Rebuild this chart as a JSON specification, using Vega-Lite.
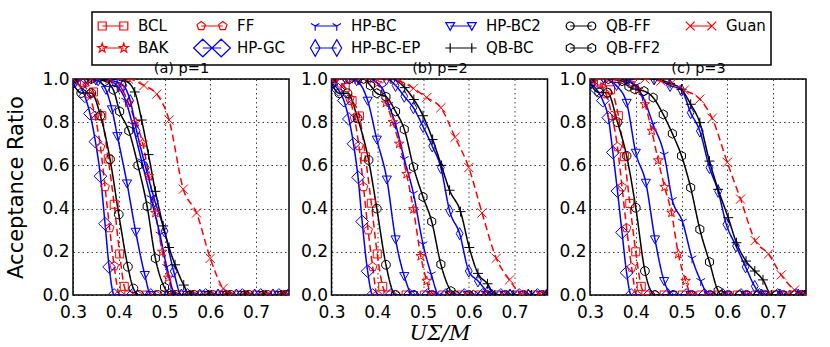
{
"$schema": "https://vega.github.io/schema/vega-lite/v6.json",
"background": "white",
"padding": {"left": 5, "top": 10, "right": 5, "bottom": 2},
"datasets": {"curves": [
{"p":1,"s":"BCL","x":0.3,"y":1},{"p":1,"s":"BCL","x":0.325,"y":0.985},{"p":1,"s":"BCL","x":0.345,"y":0.94},{"p":1,"s":"BCL","x":0.363,"y":0.83},{"p":1,"s":"BCL","x":0.377,"y":0.63},{"p":1,"s":"BCL","x":0.39,"y":0.42},{"p":1,"s":"BCL","x":0.402,"y":0.19},{"p":1,"s":"BCL","x":0.412,"y":0.04},{"p":1,"s":"BCL","x":0.422,"y":0},{"p":1,"s":"BCL","x":0.46,"y":0},{"p":1,"s":"BCL","x":0.5,"y":0},{"p":1,"s":"BCL","x":0.54,"y":0},{"p":1,"s":"BCL","x":0.58,"y":0},{"p":1,"s":"BCL","x":0.62,"y":0},{"p":1,"s":"BCL","x":0.66,"y":0},{"p":1,"s":"BCL","x":0.7,"y":0},{"p":1,"s":"BCL","x":0.74,"y":0},{"p":1,"s":"BCL","x":0.77,"y":0},
{"p":1,"s":"BAK","x":0.3,"y":1},{"p":1,"s":"BAK","x":0.34,"y":1},{"p":1,"s":"BAK","x":0.38,"y":1},{"p":1,"s":"BAK","x":0.405,"y":0.96},{"p":1,"s":"BAK","x":0.421,"y":0.89},{"p":1,"s":"BAK","x":0.437,"y":0.8},{"p":1,"s":"BAK","x":0.452,"y":0.705},{"p":1,"s":"BAK","x":0.466,"y":0.55},{"p":1,"s":"BAK","x":0.48,"y":0.38},{"p":1,"s":"BAK","x":0.495,"y":0.2},{"p":1,"s":"BAK","x":0.508,"y":0.08},{"p":1,"s":"BAK","x":0.522,"y":0},{"p":1,"s":"BAK","x":0.562,"y":0},{"p":1,"s":"BAK","x":0.602,"y":0},{"p":1,"s":"BAK","x":0.642,"y":0},{"p":1,"s":"BAK","x":0.682,"y":0},{"p":1,"s":"BAK","x":0.722,"y":0},{"p":1,"s":"BAK","x":0.762,"y":0},
{"p":1,"s":"FF","x":0.3,"y":1},{"p":1,"s":"FF","x":0.32,"y":0.98},{"p":1,"s":"FF","x":0.335,"y":0.93},{"p":1,"s":"FF","x":0.348,"y":0.83},{"p":1,"s":"FF","x":0.36,"y":0.685},{"p":1,"s":"FF","x":0.37,"y":0.5},{"p":1,"s":"FF","x":0.38,"y":0.31},{"p":1,"s":"FF","x":0.39,"y":0.134},{"p":1,"s":"FF","x":0.402,"y":0},{"p":1,"s":"FF","x":0.44,"y":0},{"p":1,"s":"FF","x":0.48,"y":0},{"p":1,"s":"FF","x":0.52,"y":0},{"p":1,"s":"FF","x":0.56,"y":0},{"p":1,"s":"FF","x":0.6,"y":0},{"p":1,"s":"FF","x":0.64,"y":0},{"p":1,"s":"FF","x":0.68,"y":0},{"p":1,"s":"FF","x":0.72,"y":0},{"p":1,"s":"FF","x":0.76,"y":0},
{"p":1,"s":"HP-GC","x":0.3,"y":0.99},{"p":1,"s":"HP-GC","x":0.315,"y":0.97},{"p":1,"s":"HP-GC","x":0.326,"y":0.92},{"p":1,"s":"HP-GC","x":0.337,"y":0.84},{"p":1,"s":"HP-GC","x":0.349,"y":0.71},{"p":1,"s":"HP-GC","x":0.36,"y":0.55},{"p":1,"s":"HP-GC","x":0.37,"y":0.33},{"p":1,"s":"HP-GC","x":0.379,"y":0.13},{"p":1,"s":"HP-GC","x":0.39,"y":0},{"p":1,"s":"HP-GC","x":0.43,"y":0},{"p":1,"s":"HP-GC","x":0.47,"y":0},{"p":1,"s":"HP-GC","x":0.51,"y":0},{"p":1,"s":"HP-GC","x":0.55,"y":0},{"p":1,"s":"HP-GC","x":0.59,"y":0},{"p":1,"s":"HP-GC","x":0.63,"y":0},{"p":1,"s":"HP-GC","x":0.67,"y":0},{"p":1,"s":"HP-GC","x":0.71,"y":0},{"p":1,"s":"HP-GC","x":0.75,"y":0},
{"p":1,"s":"HP-BC","x":0.3,"y":1},{"p":1,"s":"HP-BC","x":0.34,"y":1},{"p":1,"s":"HP-BC","x":0.38,"y":0.99},{"p":1,"s":"HP-BC","x":0.4,"y":0.96},{"p":1,"s":"HP-BC","x":0.415,"y":0.9},{"p":1,"s":"HP-BC","x":0.43,"y":0.79},{"p":1,"s":"HP-BC","x":0.45,"y":0.62},{"p":1,"s":"HP-BC","x":0.47,"y":0.45},{"p":1,"s":"HP-BC","x":0.49,"y":0.28},{"p":1,"s":"HP-BC","x":0.505,"y":0.13},{"p":1,"s":"HP-BC","x":0.525,"y":0},{"p":1,"s":"HP-BC","x":0.565,"y":0},{"p":1,"s":"HP-BC","x":0.605,"y":0},{"p":1,"s":"HP-BC","x":0.645,"y":0},{"p":1,"s":"HP-BC","x":0.685,"y":0},{"p":1,"s":"HP-BC","x":0.725,"y":0},{"p":1,"s":"HP-BC","x":0.765,"y":0},
{"p":1,"s":"HP-BC-EP","x":0.3,"y":1},{"p":1,"s":"HP-BC-EP","x":0.35,"y":1},{"p":1,"s":"HP-BC-EP","x":0.39,"y":0.99},{"p":1,"s":"HP-BC-EP","x":0.41,"y":0.97},{"p":1,"s":"HP-BC-EP","x":0.425,"y":0.9},{"p":1,"s":"HP-BC-EP","x":0.439,"y":0.76},{"p":1,"s":"HP-BC-EP","x":0.459,"y":0.59},{"p":1,"s":"HP-BC-EP","x":0.479,"y":0.435},{"p":1,"s":"HP-BC-EP","x":0.5,"y":0.296},{"p":1,"s":"HP-BC-EP","x":0.52,"y":0.11},{"p":1,"s":"HP-BC-EP","x":0.537,"y":0},{"p":1,"s":"HP-BC-EP","x":0.577,"y":0},{"p":1,"s":"HP-BC-EP","x":0.617,"y":0},{"p":1,"s":"HP-BC-EP","x":0.657,"y":0},{"p":1,"s":"HP-BC-EP","x":0.697,"y":0},{"p":1,"s":"HP-BC-EP","x":0.737,"y":0},{"p":1,"s":"HP-BC-EP","x":0.77,"y":0},
{"p":1,"s":"HP-BC2","x":0.3,"y":1},{"p":1,"s":"HP-BC2","x":0.33,"y":1},{"p":1,"s":"HP-BC2","x":0.355,"y":0.99},{"p":1,"s":"HP-BC2","x":0.372,"y":0.95},{"p":1,"s":"HP-BC2","x":0.385,"y":0.86},{"p":1,"s":"HP-BC2","x":0.397,"y":0.736},{"p":1,"s":"HP-BC2","x":0.418,"y":0.517},{"p":1,"s":"HP-BC2","x":0.437,"y":0.293},{"p":1,"s":"HP-BC2","x":0.457,"y":0.093},{"p":1,"s":"HP-BC2","x":0.47,"y":0},{"p":1,"s":"HP-BC2","x":0.51,"y":0},{"p":1,"s":"HP-BC2","x":0.55,"y":0},{"p":1,"s":"HP-BC2","x":0.59,"y":0},{"p":1,"s":"HP-BC2","x":0.63,"y":0},{"p":1,"s":"HP-BC2","x":0.67,"y":0},{"p":1,"s":"HP-BC2","x":0.71,"y":0},{"p":1,"s":"HP-BC2","x":0.75,"y":0},
{"p":1,"s":"QB-BC","x":0.3,"y":1},{"p":1,"s":"QB-BC","x":0.34,"y":1},{"p":1,"s":"QB-BC","x":0.38,"y":1},{"p":1,"s":"QB-BC","x":0.415,"y":0.99},{"p":1,"s":"QB-BC","x":0.435,"y":0.94},{"p":1,"s":"QB-BC","x":0.45,"y":0.81},{"p":1,"s":"QB-BC","x":0.465,"y":0.65},{"p":1,"s":"QB-BC","x":0.48,"y":0.48},{"p":1,"s":"QB-BC","x":0.497,"y":0.32},{"p":1,"s":"QB-BC","x":0.51,"y":0.22},{"p":1,"s":"QB-BC","x":0.523,"y":0.14},{"p":1,"s":"QB-BC","x":0.542,"y":0.046},{"p":1,"s":"QB-BC","x":0.555,"y":0},{"p":1,"s":"QB-BC","x":0.595,"y":0},{"p":1,"s":"QB-BC","x":0.635,"y":0},{"p":1,"s":"QB-BC","x":0.675,"y":0},{"p":1,"s":"QB-BC","x":0.715,"y":0},{"p":1,"s":"QB-BC","x":0.755,"y":0},
{"p":1,"s":"QB-FF","x":0.3,"y":0.98},{"p":1,"s":"QB-FF","x":0.318,"y":0.935},{"p":1,"s":"QB-FF","x":0.34,"y":0.935},{"p":1,"s":"QB-FF","x":0.36,"y":0.83},{"p":1,"s":"QB-FF","x":0.381,"y":0.628},{"p":1,"s":"QB-FF","x":0.4,"y":0.373},{"p":1,"s":"QB-FF","x":0.42,"y":0.131},{"p":1,"s":"QB-FF","x":0.432,"y":0.03},{"p":1,"s":"QB-FF","x":0.445,"y":0},{"p":1,"s":"QB-FF","x":0.485,"y":0},{"p":1,"s":"QB-FF","x":0.525,"y":0},{"p":1,"s":"QB-FF","x":0.565,"y":0},{"p":1,"s":"QB-FF","x":0.605,"y":0},{"p":1,"s":"QB-FF","x":0.645,"y":0},{"p":1,"s":"QB-FF","x":0.685,"y":0},{"p":1,"s":"QB-FF","x":0.725,"y":0},{"p":1,"s":"QB-FF","x":0.765,"y":0},
{"p":1,"s":"QB-FF2","x":0.3,"y":1},{"p":1,"s":"QB-FF2","x":0.34,"y":1},{"p":1,"s":"QB-FF2","x":0.37,"y":0.99},{"p":1,"s":"QB-FF2","x":0.388,"y":0.95},{"p":1,"s":"QB-FF2","x":0.402,"y":0.85},{"p":1,"s":"QB-FF2","x":0.422,"y":0.76},{"p":1,"s":"QB-FF2","x":0.442,"y":0.6},{"p":1,"s":"QB-FF2","x":0.462,"y":0.41},{"p":1,"s":"QB-FF2","x":0.48,"y":0.17},{"p":1,"s":"QB-FF2","x":0.5,"y":0.035},{"p":1,"s":"QB-FF2","x":0.515,"y":0},{"p":1,"s":"QB-FF2","x":0.555,"y":0},{"p":1,"s":"QB-FF2","x":0.595,"y":0},{"p":1,"s":"QB-FF2","x":0.635,"y":0},{"p":1,"s":"QB-FF2","x":0.675,"y":0},{"p":1,"s":"QB-FF2","x":0.715,"y":0},{"p":1,"s":"QB-FF2","x":0.755,"y":0},
{"p":1,"s":"Guan","x":0.3,"y":1},{"p":1,"s":"Guan","x":0.34,"y":1},{"p":1,"s":"Guan","x":0.38,"y":1},{"p":1,"s":"Guan","x":0.421,"y":1},{"p":1,"s":"Guan","x":0.455,"y":0.97},{"p":1,"s":"Guan","x":0.483,"y":0.93},{"p":1,"s":"Guan","x":0.51,"y":0.81},{"p":1,"s":"Guan","x":0.541,"y":0.49},{"p":1,"s":"Guan","x":0.57,"y":0.38},{"p":1,"s":"Guan","x":0.6,"y":0.17},{"p":1,"s":"Guan","x":0.628,"y":0.03},{"p":1,"s":"Guan","x":0.645,"y":0},{"p":1,"s":"Guan","x":0.685,"y":0},{"p":1,"s":"Guan","x":0.725,"y":0},{"p":1,"s":"Guan","x":0.765,"y":0},

{"p":2,"s":"BCL","x":0.3,"y":1},{"p":2,"s":"BCL","x":0.33,"y":0.96},{"p":2,"s":"BCL","x":0.345,"y":0.9},{"p":2,"s":"BCL","x":0.361,"y":0.829},{"p":2,"s":"BCL","x":0.374,"y":0.64},{"p":2,"s":"BCL","x":0.387,"y":0.425},{"p":2,"s":"BCL","x":0.4,"y":0.19},{"p":2,"s":"BCL","x":0.412,"y":0.04},{"p":2,"s":"BCL","x":0.423,"y":0},{"p":2,"s":"BCL","x":0.463,"y":0},{"p":2,"s":"BCL","x":0.503,"y":0},{"p":2,"s":"BCL","x":0.543,"y":0},{"p":2,"s":"BCL","x":0.583,"y":0},{"p":2,"s":"BCL","x":0.623,"y":0},{"p":2,"s":"BCL","x":0.663,"y":0},{"p":2,"s":"BCL","x":0.703,"y":0},{"p":2,"s":"BCL","x":0.743,"y":0},{"p":2,"s":"BCL","x":0.77,"y":0},
{"p":2,"s":"FF","x":0.3,"y":1},{"p":2,"s":"FF","x":0.32,"y":0.98},{"p":2,"s":"FF","x":0.34,"y":0.91},{"p":2,"s":"FF","x":0.35,"y":0.82},{"p":2,"s":"FF","x":0.36,"y":0.69},{"p":2,"s":"FF","x":0.37,"y":0.5},{"p":2,"s":"FF","x":0.38,"y":0.3},{"p":2,"s":"FF","x":0.39,"y":0.13},{"p":2,"s":"FF","x":0.4,"y":0},{"p":2,"s":"FF","x":0.44,"y":0},{"p":2,"s":"FF","x":0.48,"y":0},{"p":2,"s":"FF","x":0.52,"y":0},{"p":2,"s":"FF","x":0.56,"y":0},{"p":2,"s":"FF","x":0.6,"y":0},{"p":2,"s":"FF","x":0.64,"y":0},{"p":2,"s":"FF","x":0.68,"y":0},{"p":2,"s":"FF","x":0.72,"y":0},{"p":2,"s":"FF","x":0.76,"y":0},
{"p":2,"s":"HP-GC","x":0.3,"y":0.98},{"p":2,"s":"HP-GC","x":0.315,"y":0.95},{"p":2,"s":"HP-GC","x":0.327,"y":0.9},{"p":2,"s":"HP-GC","x":0.338,"y":0.815},{"p":2,"s":"HP-GC","x":0.348,"y":0.7},{"p":2,"s":"HP-GC","x":0.358,"y":0.545},{"p":2,"s":"HP-GC","x":0.367,"y":0.34},{"p":2,"s":"HP-GC","x":0.379,"y":0.11},{"p":2,"s":"HP-GC","x":0.39,"y":0},{"p":2,"s":"HP-GC","x":0.43,"y":0},{"p":2,"s":"HP-GC","x":0.47,"y":0},{"p":2,"s":"HP-GC","x":0.51,"y":0},{"p":2,"s":"HP-GC","x":0.55,"y":0},{"p":2,"s":"HP-GC","x":0.59,"y":0},{"p":2,"s":"HP-GC","x":0.63,"y":0},{"p":2,"s":"HP-GC","x":0.67,"y":0},{"p":2,"s":"HP-GC","x":0.71,"y":0},{"p":2,"s":"HP-GC","x":0.75,"y":0},
{"p":2,"s":"QB-FF","x":0.3,"y":0.98},{"p":2,"s":"QB-FF","x":0.317,"y":0.934},{"p":2,"s":"QB-FF","x":0.335,"y":0.934},{"p":2,"s":"QB-FF","x":0.357,"y":0.818},{"p":2,"s":"QB-FF","x":0.381,"y":0.625},{"p":2,"s":"QB-FF","x":0.399,"y":0.4},{"p":2,"s":"QB-FF","x":0.419,"y":0.14},{"p":2,"s":"QB-FF","x":0.44,"y":0},{"p":2,"s":"QB-FF","x":0.48,"y":0},{"p":2,"s":"QB-FF","x":0.52,"y":0},{"p":2,"s":"QB-FF","x":0.56,"y":0},{"p":2,"s":"QB-FF","x":0.6,"y":0},{"p":2,"s":"QB-FF","x":0.64,"y":0},{"p":2,"s":"QB-FF","x":0.68,"y":0},{"p":2,"s":"QB-FF","x":0.72,"y":0},{"p":2,"s":"QB-FF","x":0.76,"y":0},
{"p":2,"s":"HP-BC2","x":0.3,"y":1},{"p":2,"s":"HP-BC2","x":0.33,"y":1},{"p":2,"s":"HP-BC2","x":0.355,"y":0.99},{"p":2,"s":"HP-BC2","x":0.379,"y":0.9},{"p":2,"s":"HP-BC2","x":0.399,"y":0.72},{"p":2,"s":"HP-BC2","x":0.421,"y":0.535},{"p":2,"s":"HP-BC2","x":0.44,"y":0.258},{"p":2,"s":"HP-BC2","x":0.459,"y":0.088},{"p":2,"s":"HP-BC2","x":0.478,"y":0},{"p":2,"s":"HP-BC2","x":0.518,"y":0},{"p":2,"s":"HP-BC2","x":0.558,"y":0},{"p":2,"s":"HP-BC2","x":0.598,"y":0},{"p":2,"s":"HP-BC2","x":0.638,"y":0},{"p":2,"s":"HP-BC2","x":0.678,"y":0},{"p":2,"s":"HP-BC2","x":0.718,"y":0},{"p":2,"s":"HP-BC2","x":0.758,"y":0},
{"p":2,"s":"BAK","x":0.3,"y":1},{"p":2,"s":"BAK","x":0.34,"y":1},{"p":2,"s":"BAK","x":0.38,"y":1},{"p":2,"s":"BAK","x":0.4,"y":0.98},{"p":2,"s":"BAK","x":0.419,"y":0.89},{"p":2,"s":"BAK","x":0.434,"y":0.8},{"p":2,"s":"BAK","x":0.448,"y":0.7},{"p":2,"s":"BAK","x":0.464,"y":0.56},{"p":2,"s":"BAK","x":0.479,"y":0.397},{"p":2,"s":"BAK","x":0.495,"y":0.18},{"p":2,"s":"BAK","x":0.508,"y":0.065},{"p":2,"s":"BAK","x":0.52,"y":0},{"p":2,"s":"BAK","x":0.56,"y":0},{"p":2,"s":"BAK","x":0.6,"y":0},{"p":2,"s":"BAK","x":0.64,"y":0},{"p":2,"s":"BAK","x":0.68,"y":0},{"p":2,"s":"BAK","x":0.72,"y":0},{"p":2,"s":"BAK","x":0.76,"y":0},
{"p":2,"s":"HP-BC","x":0.3,"y":1},{"p":2,"s":"HP-BC","x":0.34,"y":1},{"p":2,"s":"HP-BC","x":0.38,"y":1},{"p":2,"s":"HP-BC","x":0.41,"y":0.96},{"p":2,"s":"HP-BC","x":0.425,"y":0.88},{"p":2,"s":"HP-BC","x":0.44,"y":0.79},{"p":2,"s":"HP-BC","x":0.459,"y":0.63},{"p":2,"s":"HP-BC","x":0.479,"y":0.47},{"p":2,"s":"HP-BC","x":0.5,"y":0.235},{"p":2,"s":"HP-BC","x":0.518,"y":0.096},{"p":2,"s":"HP-BC","x":0.535,"y":0},{"p":2,"s":"HP-BC","x":0.575,"y":0},{"p":2,"s":"HP-BC","x":0.615,"y":0},{"p":2,"s":"HP-BC","x":0.655,"y":0},{"p":2,"s":"HP-BC","x":0.695,"y":0},{"p":2,"s":"HP-BC","x":0.735,"y":0},{"p":2,"s":"HP-BC","x":0.77,"y":0},
{"p":2,"s":"QB-FF2","x":0.3,"y":1},{"p":2,"s":"QB-FF2","x":0.34,"y":1},{"p":2,"s":"QB-FF2","x":0.37,"y":1},{"p":2,"s":"QB-FF2","x":0.385,"y":0.97},{"p":2,"s":"QB-FF2","x":0.399,"y":0.934},{"p":2,"s":"QB-FF2","x":0.419,"y":0.918},{"p":2,"s":"QB-FF2","x":0.44,"y":0.85},{"p":2,"s":"QB-FF2","x":0.459,"y":0.767},{"p":2,"s":"QB-FF2","x":0.479,"y":0.593},{"p":2,"s":"QB-FF2","x":0.5,"y":0.454},{"p":2,"s":"QB-FF2","x":0.519,"y":0.34},{"p":2,"s":"QB-FF2","x":0.539,"y":0.142},{"p":2,"s":"QB-FF2","x":0.561,"y":0.018},{"p":2,"s":"QB-FF2","x":0.57,"y":0},{"p":2,"s":"QB-FF2","x":0.61,"y":0},{"p":2,"s":"QB-FF2","x":0.65,"y":0},{"p":2,"s":"QB-FF2","x":0.69,"y":0},{"p":2,"s":"QB-FF2","x":0.73,"y":0},{"p":2,"s":"QB-FF2","x":0.77,"y":0},
{"p":2,"s":"HP-BC-EP","x":0.3,"y":1},{"p":2,"s":"HP-BC-EP","x":0.36,"y":1},{"p":2,"s":"HP-BC-EP","x":0.42,"y":1},{"p":2,"s":"HP-BC-EP","x":0.44,"y":0.97},{"p":2,"s":"HP-BC-EP","x":0.459,"y":0.92},{"p":2,"s":"HP-BC-EP","x":0.479,"y":0.867},{"p":2,"s":"HP-BC-EP","x":0.5,"y":0.78},{"p":2,"s":"HP-BC-EP","x":0.52,"y":0.69},{"p":2,"s":"HP-BC-EP","x":0.539,"y":0.59},{"p":2,"s":"HP-BC-EP","x":0.558,"y":0.39},{"p":2,"s":"HP-BC-EP","x":0.58,"y":0.284},{"p":2,"s":"HP-BC-EP","x":0.6,"y":0.111},{"p":2,"s":"HP-BC-EP","x":0.62,"y":0.065},{"p":2,"s":"HP-BC-EP","x":0.641,"y":0.015},{"p":2,"s":"HP-BC-EP","x":0.65,"y":0},{"p":2,"s":"HP-BC-EP","x":0.69,"y":0},{"p":2,"s":"HP-BC-EP","x":0.73,"y":0},{"p":2,"s":"HP-BC-EP","x":0.77,"y":0},
{"p":2,"s":"QB-BC","x":0.3,"y":1},{"p":2,"s":"QB-BC","x":0.36,"y":1},{"p":2,"s":"QB-BC","x":0.43,"y":1},{"p":2,"s":"QB-BC","x":0.46,"y":0.96},{"p":2,"s":"QB-BC","x":0.48,"y":0.905},{"p":2,"s":"QB-BC","x":0.5,"y":0.83},{"p":2,"s":"QB-BC","x":0.521,"y":0.72},{"p":2,"s":"QB-BC","x":0.54,"y":0.6},{"p":2,"s":"QB-BC","x":0.558,"y":0.485},{"p":2,"s":"QB-BC","x":0.582,"y":0.386},{"p":2,"s":"QB-BC","x":0.601,"y":0.22},{"p":2,"s":"QB-BC","x":0.62,"y":0.1},{"p":2,"s":"QB-BC","x":0.641,"y":0.052},{"p":2,"s":"QB-BC","x":0.657,"y":0},{"p":2,"s":"QB-BC","x":0.697,"y":0},{"p":2,"s":"QB-BC","x":0.737,"y":0},{"p":2,"s":"QB-BC","x":0.77,"y":0},
{"p":2,"s":"Guan","x":0.3,"y":1},{"p":2,"s":"Guan","x":0.36,"y":1},{"p":2,"s":"Guan","x":0.42,"y":1},{"p":2,"s":"Guan","x":0.45,"y":0.99},{"p":2,"s":"Guan","x":0.479,"y":0.957},{"p":2,"s":"Guan","x":0.508,"y":0.914},{"p":2,"s":"Guan","x":0.539,"y":0.867},{"p":2,"s":"Guan","x":0.57,"y":0.73},{"p":2,"s":"Guan","x":0.6,"y":0.59},{"p":2,"s":"Guan","x":0.629,"y":0.38},{"p":2,"s":"Guan","x":0.66,"y":0.17},{"p":2,"s":"Guan","x":0.689,"y":0.07},{"p":2,"s":"Guan","x":0.718,"y":0},{"p":2,"s":"Guan","x":0.758,"y":0},

{"p":3,"s":"HP-GC","x":0.3,"y":0.98},{"p":3,"s":"HP-GC","x":0.315,"y":0.95},{"p":3,"s":"HP-GC","x":0.328,"y":0.9},{"p":3,"s":"HP-GC","x":0.34,"y":0.821},{"p":3,"s":"HP-GC","x":0.35,"y":0.66},{"p":3,"s":"HP-GC","x":0.36,"y":0.481},{"p":3,"s":"HP-GC","x":0.37,"y":0.29},{"p":3,"s":"HP-GC","x":0.38,"y":0.103},{"p":3,"s":"HP-GC","x":0.39,"y":0},{"p":3,"s":"HP-GC","x":0.43,"y":0},{"p":3,"s":"HP-GC","x":0.47,"y":0},{"p":3,"s":"HP-GC","x":0.51,"y":0},{"p":3,"s":"HP-GC","x":0.55,"y":0},{"p":3,"s":"HP-GC","x":0.59,"y":0},{"p":3,"s":"HP-GC","x":0.63,"y":0},{"p":3,"s":"HP-GC","x":0.67,"y":0},{"p":3,"s":"HP-GC","x":0.71,"y":0},{"p":3,"s":"HP-GC","x":0.75,"y":0},
{"p":3,"s":"FF","x":0.3,"y":1},{"p":3,"s":"FF","x":0.32,"y":0.98},{"p":3,"s":"FF","x":0.335,"y":0.93},{"p":3,"s":"FF","x":0.348,"y":0.83},{"p":3,"s":"FF","x":0.36,"y":0.685},{"p":3,"s":"FF","x":0.37,"y":0.5},{"p":3,"s":"FF","x":0.38,"y":0.31},{"p":3,"s":"FF","x":0.391,"y":0.127},{"p":3,"s":"FF","x":0.402,"y":0},{"p":3,"s":"FF","x":0.442,"y":0},{"p":3,"s":"FF","x":0.482,"y":0},{"p":3,"s":"FF","x":0.522,"y":0},{"p":3,"s":"FF","x":0.562,"y":0},{"p":3,"s":"FF","x":0.602,"y":0},{"p":3,"s":"FF","x":0.642,"y":0},{"p":3,"s":"FF","x":0.682,"y":0},{"p":3,"s":"FF","x":0.722,"y":0},{"p":3,"s":"FF","x":0.762,"y":0},
{"p":3,"s":"BCL","x":0.3,"y":1},{"p":3,"s":"BCL","x":0.325,"y":0.98},{"p":3,"s":"BCL","x":0.345,"y":0.95},{"p":3,"s":"BCL","x":0.362,"y":0.83},{"p":3,"s":"BCL","x":0.375,"y":0.64},{"p":3,"s":"BCL","x":0.387,"y":0.424},{"p":3,"s":"BCL","x":0.4,"y":0.2},{"p":3,"s":"BCL","x":0.412,"y":0.04},{"p":3,"s":"BCL","x":0.422,"y":0},{"p":3,"s":"BCL","x":0.462,"y":0},{"p":3,"s":"BCL","x":0.502,"y":0},{"p":3,"s":"BCL","x":0.542,"y":0},{"p":3,"s":"BCL","x":0.582,"y":0},{"p":3,"s":"BCL","x":0.622,"y":0},{"p":3,"s":"BCL","x":0.662,"y":0},{"p":3,"s":"BCL","x":0.702,"y":0},{"p":3,"s":"BCL","x":0.742,"y":0},{"p":3,"s":"BCL","x":0.77,"y":0},
{"p":3,"s":"QB-FF","x":0.3,"y":0.98},{"p":3,"s":"QB-FF","x":0.32,"y":0.937},{"p":3,"s":"QB-FF","x":0.338,"y":0.937},{"p":3,"s":"QB-FF","x":0.36,"y":0.8},{"p":3,"s":"QB-FF","x":0.38,"y":0.644},{"p":3,"s":"QB-FF","x":0.4,"y":0.404},{"p":3,"s":"QB-FF","x":0.42,"y":0.111},{"p":3,"s":"QB-FF","x":0.442,"y":0},{"p":3,"s":"QB-FF","x":0.482,"y":0},{"p":3,"s":"QB-FF","x":0.522,"y":0},{"p":3,"s":"QB-FF","x":0.562,"y":0},{"p":3,"s":"QB-FF","x":0.602,"y":0},{"p":3,"s":"QB-FF","x":0.642,"y":0},{"p":3,"s":"QB-FF","x":0.682,"y":0},{"p":3,"s":"QB-FF","x":0.722,"y":0},{"p":3,"s":"QB-FF","x":0.762,"y":0},
{"p":3,"s":"HP-BC2","x":0.3,"y":1},{"p":3,"s":"HP-BC2","x":0.33,"y":1},{"p":3,"s":"HP-BC2","x":0.358,"y":0.968},{"p":3,"s":"HP-BC2","x":0.38,"y":0.89},{"p":3,"s":"HP-BC2","x":0.4,"y":0.659},{"p":3,"s":"HP-BC2","x":0.422,"y":0.52},{"p":3,"s":"HP-BC2","x":0.442,"y":0.258},{"p":3,"s":"HP-BC2","x":0.462,"y":0.065},{"p":3,"s":"HP-BC2","x":0.48,"y":0},{"p":3,"s":"HP-BC2","x":0.52,"y":0},{"p":3,"s":"HP-BC2","x":0.56,"y":0},{"p":3,"s":"HP-BC2","x":0.6,"y":0},{"p":3,"s":"HP-BC2","x":0.64,"y":0},{"p":3,"s":"HP-BC2","x":0.68,"y":0},{"p":3,"s":"HP-BC2","x":0.72,"y":0},{"p":3,"s":"HP-BC2","x":0.76,"y":0},
{"p":3,"s":"BAK","x":0.3,"y":1},{"p":3,"s":"BAK","x":0.34,"y":1},{"p":3,"s":"BAK","x":0.37,"y":0.99},{"p":3,"s":"BAK","x":0.39,"y":0.98},{"p":3,"s":"BAK","x":0.405,"y":0.95},{"p":3,"s":"BAK","x":0.42,"y":0.883},{"p":3,"s":"BAK","x":0.435,"y":0.76},{"p":3,"s":"BAK","x":0.449,"y":0.623},{"p":3,"s":"BAK","x":0.463,"y":0.5},{"p":3,"s":"BAK","x":0.478,"y":0.381},{"p":3,"s":"BAK","x":0.493,"y":0.19},{"p":3,"s":"BAK","x":0.509,"y":0.065},{"p":3,"s":"BAK","x":0.522,"y":0},{"p":3,"s":"BAK","x":0.562,"y":0},{"p":3,"s":"BAK","x":0.602,"y":0},{"p":3,"s":"BAK","x":0.642,"y":0},{"p":3,"s":"BAK","x":0.682,"y":0},{"p":3,"s":"BAK","x":0.722,"y":0},{"p":3,"s":"BAK","x":0.762,"y":0},
{"p":3,"s":"HP-BC","x":0.3,"y":1},{"p":3,"s":"HP-BC","x":0.35,"y":1},{"p":3,"s":"HP-BC","x":0.385,"y":0.99},{"p":3,"s":"HP-BC","x":0.4,"y":0.97},{"p":3,"s":"HP-BC","x":0.415,"y":0.92},{"p":3,"s":"HP-BC","x":0.438,"y":0.79},{"p":3,"s":"HP-BC","x":0.462,"y":0.65},{"p":3,"s":"HP-BC","x":0.48,"y":0.44},{"p":3,"s":"HP-BC","x":0.502,"y":0.34},{"p":3,"s":"HP-BC","x":0.523,"y":0.17},{"p":3,"s":"HP-BC","x":0.542,"y":0.065},{"p":3,"s":"HP-BC","x":0.56,"y":0},{"p":3,"s":"HP-BC","x":0.6,"y":0},{"p":3,"s":"HP-BC","x":0.64,"y":0},{"p":3,"s":"HP-BC","x":0.68,"y":0},{"p":3,"s":"HP-BC","x":0.72,"y":0},{"p":3,"s":"HP-BC","x":0.76,"y":0},
{"p":3,"s":"QB-FF2","x":0.3,"y":1},{"p":3,"s":"QB-FF2","x":0.34,"y":1},{"p":3,"s":"QB-FF2","x":0.37,"y":0.99},{"p":3,"s":"QB-FF2","x":0.385,"y":0.965},{"p":3,"s":"QB-FF2","x":0.398,"y":0.952},{"p":3,"s":"QB-FF2","x":0.418,"y":0.944},{"p":3,"s":"QB-FF2","x":0.438,"y":0.914},{"p":3,"s":"QB-FF2","x":0.46,"y":0.836},{"p":3,"s":"QB-FF2","x":0.48,"y":0.747},{"p":3,"s":"QB-FF2","x":0.5,"y":0.644},{"p":3,"s":"QB-FF2","x":0.52,"y":0.497},{"p":3,"s":"QB-FF2","x":0.54,"y":0.304},{"p":3,"s":"QB-FF2","x":0.561,"y":0.153},{"p":3,"s":"QB-FF2","x":0.58,"y":0.019},{"p":3,"s":"QB-FF2","x":0.587,"y":0},{"p":3,"s":"QB-FF2","x":0.627,"y":0},{"p":3,"s":"QB-FF2","x":0.667,"y":0},{"p":3,"s":"QB-FF2","x":0.707,"y":0},{"p":3,"s":"QB-FF2","x":0.747,"y":0},{"p":3,"s":"QB-FF2","x":0.77,"y":0},
{"p":3,"s":"HP-BC-EP","x":0.3,"y":1},{"p":3,"s":"HP-BC-EP","x":0.38,"y":1},{"p":3,"s":"HP-BC-EP","x":0.44,"y":1},{"p":3,"s":"HP-BC-EP","x":0.475,"y":0.97},{"p":3,"s":"HP-BC-EP","x":0.5,"y":0.948},{"p":3,"s":"HP-BC-EP","x":0.52,"y":0.844},{"p":3,"s":"HP-BC-EP","x":0.54,"y":0.759},{"p":3,"s":"HP-BC-EP","x":0.561,"y":0.59},{"p":3,"s":"HP-BC-EP","x":0.58,"y":0.48},{"p":3,"s":"HP-BC-EP","x":0.598,"y":0.327},{"p":3,"s":"HP-BC-EP","x":0.619,"y":0.227},{"p":3,"s":"HP-BC-EP","x":0.64,"y":0.13},{"p":3,"s":"HP-BC-EP","x":0.66,"y":0.04},{"p":3,"s":"HP-BC-EP","x":0.675,"y":0},{"p":3,"s":"HP-BC-EP","x":0.715,"y":0},{"p":3,"s":"HP-BC-EP","x":0.755,"y":0},
{"p":3,"s":"QB-BC","x":0.3,"y":1},{"p":3,"s":"QB-BC","x":0.38,"y":1},{"p":3,"s":"QB-BC","x":0.44,"y":1},{"p":3,"s":"QB-BC","x":0.475,"y":0.98},{"p":3,"s":"QB-BC","x":0.5,"y":0.952},{"p":3,"s":"QB-BC","x":0.52,"y":0.883},{"p":3,"s":"QB-BC","x":0.54,"y":0.798},{"p":3,"s":"QB-BC","x":0.561,"y":0.62},{"p":3,"s":"QB-BC","x":0.58,"y":0.489},{"p":3,"s":"QB-BC","x":0.602,"y":0.358},{"p":3,"s":"QB-BC","x":0.62,"y":0.242},{"p":3,"s":"QB-BC","x":0.641,"y":0.157},{"p":3,"s":"QB-BC","x":0.66,"y":0.111},{"p":3,"s":"QB-BC","x":0.678,"y":0.07},{"p":3,"s":"QB-BC","x":0.697,"y":0},{"p":3,"s":"QB-BC","x":0.737,"y":0},{"p":3,"s":"QB-BC","x":0.77,"y":0},
{"p":3,"s":"Guan","x":0.3,"y":1},{"p":3,"s":"Guan","x":0.36,"y":1},{"p":3,"s":"Guan","x":0.42,"y":1},{"p":3,"s":"Guan","x":0.455,"y":0.99},{"p":3,"s":"Guan","x":0.478,"y":0.98},{"p":3,"s":"Guan","x":0.506,"y":0.949},{"p":3,"s":"Guan","x":0.54,"y":0.907},{"p":3,"s":"Guan","x":0.567,"y":0.818},{"p":3,"s":"Guan","x":0.6,"y":0.614},{"p":3,"s":"Guan","x":0.629,"y":0.444},{"p":3,"s":"Guan","x":0.661,"y":0.252},{"p":3,"s":"Guan","x":0.69,"y":0.19},{"p":3,"s":"Guan","x":0.718,"y":0.093},{"p":3,"s":"Guan","x":0.747,"y":0.023},{"p":3,"s":"Guan","x":0.77,"y":0}
]},
"data": {"name": "curves"},
"hconcat": [
{
 "width": 216, "height": 216,
 "resolve": {"scale": {"shape": "independent", "stroke": "independent"}, "axis": {"x": "independent"}},
 "layer": [
  {"transform": [{"filter": "datum.p == 1"}],
   "mark": {"type": "line", "strokeWidth": 1.5, "interpolate": "monotone", "clip": true},
   "encoding": {
    "x": {"field": "x", "type": "quantitative", "scale": {"domain": [0.3, 0.772], "nice": false, "zero": false}, "axis": {"values": [0.3,0.4,0.5,0.6,0.7], "format": ".1f", "title": null}},
    "y": {"field": "y", "type": "quantitative", "scale": {"domain": [0, 1], "nice": false}, "axis": {"values": [0,0.2,0.4,0.6,0.8,1], "format": ".1f", "title": "Acceptance Ratio"}},
    "color": {"field": "s", "type": "nominal", "scale": {"domain": ["BCL","FF","HP-BC","HP-BC2","QB-FF","Guan","BAK","HP-GC","HP-BC-EP","QB-BC","QB-FF2"], "range": ["#ff0000","#ff0000","#0000ff","#0000ff","#000000","#ff0000","#ff0000","#0000ff","#0000ff","#000000","#000000"]}, "legend": null},
    "strokeDash": {"field": "s", "type": "nominal", "scale": {"domain": ["BCL","FF","HP-BC","HP-BC2","QB-FF","Guan","BAK","HP-GC","HP-BC-EP","QB-BC","QB-FF2"], "range": [[7,4],[7,4],[1,0],[1,0],[1,0],[7,4],[7,4],[1,0],[1,0],[1,0],[1,0]]}, "legend": null}
   }},
  {"transform": [{"filter": "datum.p == 1"}],
   "mark": {"type": "point", "filled": false, "size": 64, "strokeWidth": 1, "opacity": 1, "clip": true},
   "encoding": {
    "x": {"field": "x", "type": "quantitative", "axis": {"orient": "top", "title": "(a) p=1", "labels": false, "grid": false, "ticks": false, "domain": false, "titleFontSize": 14.5, "titlePadding": 4}},
    "y": {"field": "y", "type": "quantitative"},
    "color": {"field": "s", "type": "nominal", "legend": null},
    "shape": {"field": "s", "type": "nominal", "scale": {"domain": ["BCL","FF","HP-BC","HP-BC2","QB-FF","Guan","BAK","HP-GC","HP-BC-EP","QB-BC","QB-FF2"], "range": ["M-1,-1H1V1H-1Z","M0,-1.15L1.09,-0.36L0.68,0.93L-0.68,0.93L-1.09,-0.36Z","M0,0V1.25M0,0L-1.08,-0.62M0,0L1.08,-0.62","M-1.15,-0.85H1.15L0,1.15Z","M1.1,0A1.1,1.1,0,1,1,-1.1,0A1.1,1.1,0,1,1,1.1,0Z","M-1.15,-1.15L1.15,1.15M-1.15,1.15L1.15,-1.15","M0,-1.25L0.29,-0.4L1.19,-0.39L0.47,0.15L0.73,1.01L0,0.5L-0.73,1.01L-0.47,0.15L-1.19,-0.39L-0.29,-0.4Z","M0,-1.6L1.6,0L0,1.6L-1.6,0Z","M0,-1.5L0.85,0L0,1.5L-0.85,0Z","M-1.25,0H1.25M0,-1.25V1.25","M0,-1.15L1,-0.58L1,0.58L0,1.15L-1,0.58L-1,-0.58Z"]}, "legend": null}
   }},
  {"transform": [{"filter": "false"}],
   "mark": {"type": "point", "filled": false, "strokeWidth": 1.2, "opacity": 1},
   "encoding": {
    "x": {"field": "x", "type": "quantitative", "axis": null},
    "y": {"field": "y", "type": "quantitative"},
    "shape": {"field": "s", "type": "nominal", "scale": {"domain": ["BCL","FF","HP-BC","HP-BC2","QB-FF","Guan","BAK","HP-GC","HP-BC-EP","QB-BC","QB-FF2"], "range": [
      "M-1.35,0H1.35M-1.85,-0.5H-0.85V0.5H-1.85ZM0.85,-0.5H1.85V0.5H0.85Z",
      "M-1.35,0H1.35M-1.35,-0.55L-0.83,-0.17L-1.03,0.45L-1.67,0.45L-1.87,-0.17ZM1.35,-0.55L1.87,-0.17L1.67,0.45L1.03,0.45L0.83,-0.17Z",
      "M-1.35,0H1.35M-1.35,0V0.6M-1.35,0L-1.87,-0.3M-1.35,0L-0.83,-0.3M1.35,0V0.6M1.35,0L0.83,-0.3M1.35,0L1.87,-0.3",
      "M-1.35,0H1.35M-1.9,-0.42H-0.8L-1.35,0.55ZM0.8,-0.42H1.9L1.35,0.55Z",
      "M-1.35,0H1.35M-0.85,0A0.5,0.5,0,1,1,-1.85,0A0.5,0.5,0,1,1,-0.85,0ZM1.85,0A0.5,0.5,0,1,1,0.85,0A0.5,0.5,0,1,1,1.85,0Z",
      "M-1.35,0H1.35M-1.9,-0.55L-0.8,0.55M-1.9,0.55L-0.8,-0.55M0.8,-0.55L1.9,0.55M0.8,0.55L1.9,-0.55",
      "M-1.35,0H1.35M-1.35,-0.6L-1.21,-0.19L-0.78,-0.19L-1.12,0.07L-1,0.49L-1.35,0.24L-1.7,0.49L-1.58,0.07L-1.92,-0.19L-1.49,-0.19ZM1.35,-0.6L1.49,-0.19L1.92,-0.19L1.58,0.07L1.7,0.49L1.35,0.24L1,0.49L1.12,0.07L0.78,-0.19L1.21,-0.19Z",
      "M-1.15,0H1.15M-1.15,-1.1L0,0L-1.15,1.1L-2.3,0ZM1.15,-1.1L2.3,0L1.15,1.1L0,0Z",
      "M-1.35,0H1.35M-1.35,-1.05L-0.75,0L-1.35,1.05L-1.95,0ZM1.35,-1.05L1.95,0L1.35,1.05L0.75,0Z",
      "M-1.95,0H1.95M-1.35,-0.6V0.6M1.35,-0.6V0.6",
      "M-1.35,0H1.35M-1.35,-0.55L-0.87,-0.275L-0.87,0.275L-1.35,0.55L-1.83,0.275L-1.83,-0.275ZM1.35,-0.55L1.83,-0.275L1.83,0.275L1.35,0.55L0.87,0.275L0.87,-0.275Z"
    ]}, "legend": {"title": null, "orient": "none", "legendX": 19, "legendY": -67, "direction": "horizontal", "columns": 6}},
    "stroke": {"field": "s", "type": "nominal", "scale": {"domain": ["BCL","FF","HP-BC","HP-BC2","QB-FF","Guan","BAK","HP-GC","HP-BC-EP","QB-BC","QB-FF2"], "range": ["#ff0000","#ff0000","#0000ff","#0000ff","#000000","#ff0000","#ff0000","#0000ff","#0000ff","#000000","#000000"]}, "legend": {"title": null, "orient": "none", "legendX": 19, "legendY": -67, "direction": "horizontal", "columns": 6}}
   }}
 ]
},
{
 "width": 216, "height": 216,
 "resolve": {"axis": {"x": "independent"}},
 "layer": [
  {"transform": [{"filter": "datum.p == 2"}],
   "mark": {"type": "line", "strokeWidth": 1.5, "interpolate": "monotone", "clip": true},
   "encoding": {
    "x": {"field": "x", "type": "quantitative", "scale": {"domain": [0.3, 0.772], "nice": false, "zero": false}, "axis": {"values": [0.3,0.4,0.5,0.6,0.7], "format": ".1f", "title": "UΣ/M", "titleFont": "DejaVu Serif", "titleFontStyle": "italic", "titleFontSize": 21}},
    "y": {"field": "y", "type": "quantitative", "scale": {"domain": [0, 1], "nice": false}, "axis": {"values": [0,0.2,0.4,0.6,0.8,1], "format": ".1f", "title": null}},
    "color": {"field": "s", "type": "nominal", "legend": null},
    "strokeDash": {"field": "s", "type": "nominal", "scale": {"domain": ["BCL","FF","HP-BC","HP-BC2","QB-FF","Guan","BAK","HP-GC","HP-BC-EP","QB-BC","QB-FF2"], "range": [[7,4],[7,4],[1,0],[1,0],[1,0],[7,4],[7,4],[1,0],[1,0],[1,0],[1,0]]}, "legend": null}
   }},
  {"transform": [{"filter": "datum.p == 2"}],
   "mark": {"type": "point", "filled": false, "size": 64, "strokeWidth": 1, "opacity": 1, "clip": true},
   "encoding": {
    "x": {"field": "x", "type": "quantitative", "axis": {"orient": "top", "title": "(b) p=2", "labels": false, "grid": false, "ticks": false, "domain": false, "titleFontSize": 14.5, "titlePadding": 4}},
    "y": {"field": "y", "type": "quantitative"},
    "color": {"field": "s", "type": "nominal", "legend": null},
    "shape": {"field": "s", "type": "nominal", "scale": {"domain": ["BCL","FF","HP-BC","HP-BC2","QB-FF","Guan","BAK","HP-GC","HP-BC-EP","QB-BC","QB-FF2"], "range": ["M-1,-1H1V1H-1Z","M0,-1.15L1.09,-0.36L0.68,0.93L-0.68,0.93L-1.09,-0.36Z","M0,0V1.25M0,0L-1.08,-0.62M0,0L1.08,-0.62","M-1.15,-0.85H1.15L0,1.15Z","M1.1,0A1.1,1.1,0,1,1,-1.1,0A1.1,1.1,0,1,1,1.1,0Z","M-1.15,-1.15L1.15,1.15M-1.15,1.15L1.15,-1.15","M0,-1.25L0.29,-0.4L1.19,-0.39L0.47,0.15L0.73,1.01L0,0.5L-0.73,1.01L-0.47,0.15L-1.19,-0.39L-0.29,-0.4Z","M0,-1.6L1.6,0L0,1.6L-1.6,0Z","M0,-1.5L0.85,0L0,1.5L-0.85,0Z","M-1.25,0H1.25M0,-1.25V1.25","M0,-1.15L1,-0.58L1,0.58L0,1.15L-1,0.58L-1,-0.58Z"]}, "legend": null}
   }}
 ]
},
{
 "width": 216, "height": 216,
 "resolve": {"axis": {"x": "independent"}},
 "layer": [
  {"transform": [{"filter": "datum.p == 3"}],
   "mark": {"type": "line", "strokeWidth": 1.5, "interpolate": "monotone", "clip": true},
   "encoding": {
    "x": {"field": "x", "type": "quantitative", "scale": {"domain": [0.3, 0.772], "nice": false, "zero": false}, "axis": {"values": [0.3,0.4,0.5,0.6,0.7], "format": ".1f", "title": null}},
    "y": {"field": "y", "type": "quantitative", "scale": {"domain": [0, 1], "nice": false}, "axis": {"values": [0,0.2,0.4,0.6,0.8,1], "format": ".1f", "title": null}},
    "color": {"field": "s", "type": "nominal", "legend": null},
    "strokeDash": {"field": "s", "type": "nominal", "scale": {"domain": ["BCL","FF","HP-BC","HP-BC2","QB-FF","Guan","BAK","HP-GC","HP-BC-EP","QB-BC","QB-FF2"], "range": [[7,4],[7,4],[1,0],[1,0],[1,0],[7,4],[7,4],[1,0],[1,0],[1,0],[1,0]]}, "legend": null}
   }},
  {"transform": [{"filter": "datum.p == 3"}],
   "mark": {"type": "point", "filled": false, "size": 64, "strokeWidth": 1, "opacity": 1, "clip": true},
   "encoding": {
    "x": {"field": "x", "type": "quantitative", "axis": {"orient": "top", "title": "(c) p=3", "labels": false, "grid": false, "ticks": false, "domain": false, "titleFontSize": 14.5, "titlePadding": 4}},
    "y": {"field": "y", "type": "quantitative"},
    "color": {"field": "s", "type": "nominal", "legend": null},
    "shape": {"field": "s", "type": "nominal", "scale": {"domain": ["BCL","FF","HP-BC","HP-BC2","QB-FF","Guan","BAK","HP-GC","HP-BC-EP","QB-BC","QB-FF2"], "range": ["M-1,-1H1V1H-1Z","M0,-1.15L1.09,-0.36L0.68,0.93L-0.68,0.93L-1.09,-0.36Z","M0,0V1.25M0,0L-1.08,-0.62M0,0L1.08,-0.62","M-1.15,-0.85H1.15L0,1.15Z","M1.1,0A1.1,1.1,0,1,1,-1.1,0A1.1,1.1,0,1,1,1.1,0Z","M-1.15,-1.15L1.15,1.15M-1.15,1.15L1.15,-1.15","M0,-1.25L0.29,-0.4L1.19,-0.39L0.47,0.15L0.73,1.01L0,0.5L-0.73,1.01L-0.47,0.15L-1.19,-0.39L-0.29,-0.4Z","M0,-1.6L1.6,0L0,1.6L-1.6,0Z","M0,-1.5L0.85,0L0,1.5L-0.85,0Z","M-1.25,0H1.25M0,-1.25V1.25","M0,-1.15L1,-0.58L1,0.58L0,1.15L-1,0.58L-1,-0.58Z"]}, "legend": null}
   }}
 ]
}
],
"spacing": 42.5,
"bounds": "flush",
"config": {
 "view": {"stroke": "#000000", "strokeWidth": 1.5},
 "font": "DejaVu Sans",
 "axis": {"labelFont": "DejaVu Sans", "labelFontSize": 17, "labelColor": "#000000", "ticks": false, "domain": false, "grid": true, "gridColor": "#000000", "gridDash": [1.5, 3], "gridOpacity": 0.75, "gridWidth": 1, "labelFlush": false, "labelOverlap": false, "titleFontWeight": "normal", "titleColor": "#000000", "titleFont": "DejaVu Sans"},
 "axisX": {"labelPadding": 9, "titlePadding": 2},
 "axisY": {"labelPadding": 4, "titleFontSize": 21, "titlePadding": 15},
 "legend": {"labelFont": "DejaVu Sans", "labelFontSize": 15, "labelColor": "#000000", "labelOffset": 16, "symbolSize": 256, "symbolOffset": 7, "symbolStrokeWidth": 1.2, "columnPadding": 22, "rowPadding": 2, "padding": 5, "strokeColor": "#000000", "strokeWidth": 1.5, "gridAlign": "each", "labelLimit": 300}
}
}
